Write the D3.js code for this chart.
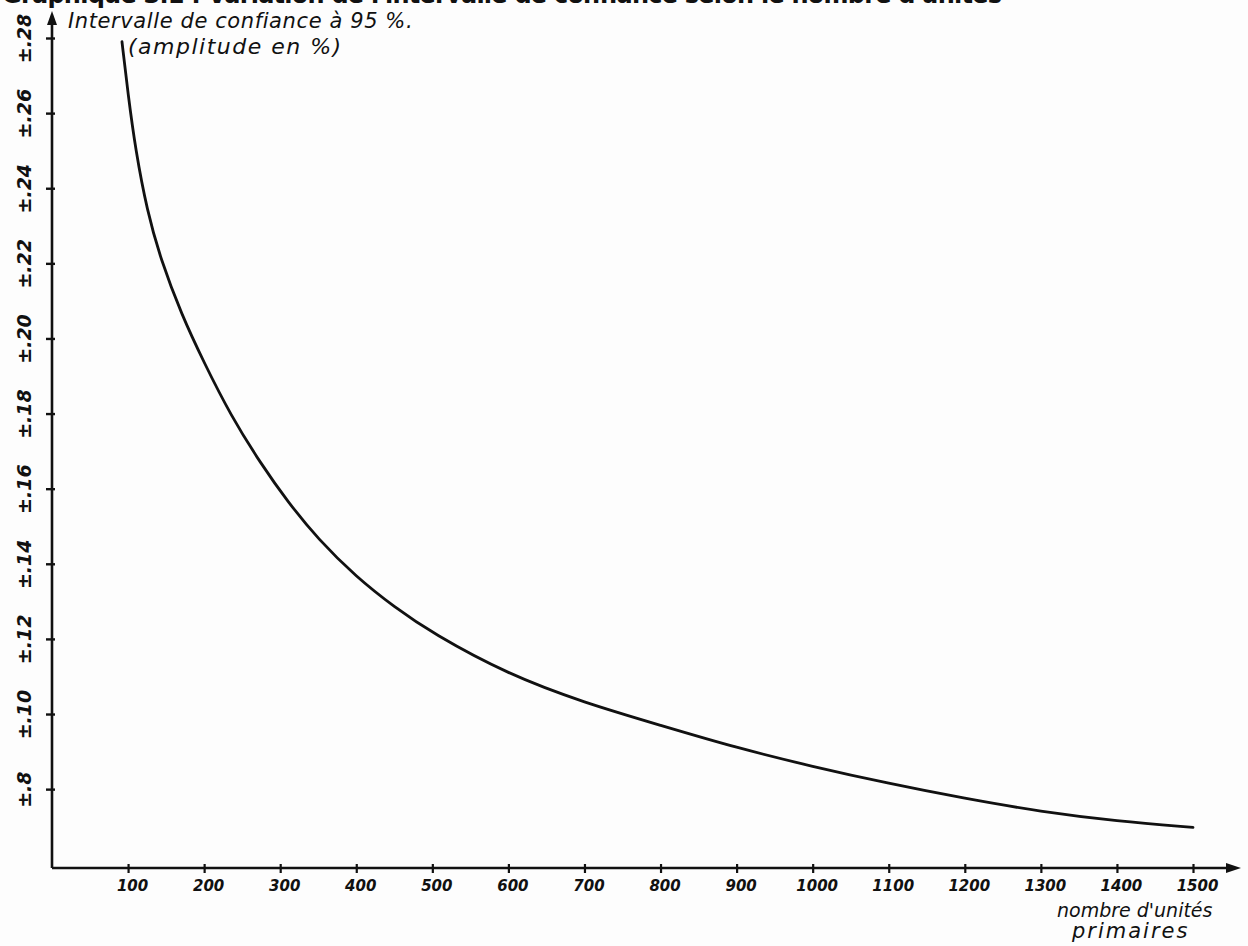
<!DOCTYPE html>
<html>
<head>
<meta charset="utf-8">
<script src="https://cdn.jsdelivr.net/npm/d3@7"></script>
<style>
  body { margin: 0; background: #fdfdfd; }
  svg { display: block; }
  .hand { font-family: "DejaVu Sans", sans-serif; font-style: italic; fill: #111; }
</style>
</head>
<body>
<div id="chart"></div>
<script>
(function(){
    // 1. Size of the drawing
    const width = 1248;
    const height = 946;

    // 2. Data
    const nUnits = [92, 100, 110, 125, 143, 170, 200, 235, 275, 310, 350, 400, 450, 500,
                    600, 700, 800, 900, 1000, 1100, 1200, 1300, 1400, 1500];
    const amplitude = [27.9, 26.5, 25.0, 23.4, 22.1, 20.65, 19.35, 17.95, 16.65, 15.65, 14.65, 13.65, 12.85, 12.15,
                       11.05, 10.3, 9.7, 9.1, 8.6, 8.15, 7.75, 7.4, 7.15, 6.98];

    // tick values and their hand-written labels
    const xTicks = [100, 200, 300, 400, 500, 600, 700, 800, 900, 1000, 1100, 1200, 1300, 1400, 1500];
    const yTicks = [28, 26, 24, 22, 20, 18, 16, 14, 12, 10, 8];
    const yTickLabels = ["±.28", "±.26", "±.24", "±.22", "±.20", "±.18", "±.16", "±.14", "±.12", "±.10", "±.8"];

    const data = nUnits.map((n, i) => ({ n: n, v: amplitude[i] }));

    // 3. SVG container
    const svg = d3.select("#chart")
        .append("svg")
        .attr("width", width)
        .attr("height", height);

    // 4. Scales (the origin sits where the two axes meet)
    const x = d3.scaleLinear().domain([0, 1500]).range([52, 1193]);
    const y = d3.scaleLinear().domain([5.9, 28]).range([868, 38]);

    // cut-off heading at the very top of the scan
    svg.append("text")
        .attr("x", 2)
        .attr("y", 3)
        .attr("font-family", "DejaVu Sans, sans-serif")
        .attr("font-weight", "bold")
        .attr("font-size", 24)
        .attr("fill", "#111")
        .attr("textLength", 1000)
        .text("Graphique 3.1 : Variation de l'intervalle de confiance selon le nombre d'unités");

    // 5. Axes lines with arrow heads
    const axisG = svg.append("g").attr("stroke", "#111").attr("stroke-width", 2.6).attr("fill", "none");
    axisG.append("line").attr("x1", x(0)).attr("y1", 20).attr("x2", x(0)).attr("y2", y(5.9));
    axisG.append("line").attr("x1", x(0)).attr("y1", y(5.9)).attr("x2", 1230).attr("y2", y(5.9));
    svg.append("path")
        .attr("d", `M${x(0)},11 L${x(0) - 5},25 L${x(0) + 5},25 Z`)
        .attr("fill", "#111");
    svg.append("path")
        .attr("d", `M1241,${y(5.9)} L1226,${y(5.9) - 5} L1226,${y(5.9) + 5} Z`)
        .attr("fill", "#111");

    // 6. Y axis ticks, labels written sideways
    const yAxis = svg.append("g")
        .attr("transform", `translate(${x(0)},0)`)
        .call(d3.axisLeft(y)
            .tickValues(yTicks)
            .tickSize(6)
            .tickFormat((d, i) => yTickLabels[i]));
    yAxis.select(".domain").remove();
    yAxis.selectAll(".tick line").attr("stroke", "#111").attr("stroke-width", 2.4).attr("x2", 3).attr("x1", -6);
    yAxis.selectAll(".tick text")
        .attr("class", "hand")
        .attr("transform", "rotate(-90)")
        .attr("x", 0)
        .attr("y", -28)
        .attr("dy", "0.35em")
        .attr("text-anchor", "middle")
        .attr("font-size", 19)
        .attr("font-weight", "bold");

    // 7. X axis ticks
    const xAxis = svg.append("g")
        .attr("transform", `translate(0,${y(5.9)})`)
        .call(d3.axisBottom(x)
            .tickValues(xTicks)
            .tickSize(5)
            .tickFormat(d3.format("d")));
    xAxis.select(".domain").remove();
    xAxis.selectAll(".tick line").attr("stroke", "#111").attr("stroke-width", 2.2).attr("y1", -4);
    xAxis.selectAll(".tick text")
        .attr("class", "hand")
        .attr("y", 12)
        .attr("dy", "0.71em")
        .attr("dx", 4)
        .attr("font-size", 15)
        .attr("font-weight", "bold");

    // 8. Axis titles
    svg.append("text").attr("class", "hand").attr("x", 68).attr("y", 28)
        .attr("font-size", 21).attr("letter-spacing", 0.6).text("Intervalle de confiance à 95 %.");
    svg.append("text").attr("class", "hand").attr("x", 128).attr("y", 54)
        .attr("font-size", 22).attr("letter-spacing", 1.5).text("(amplitude en %)");
    svg.append("text").attr("class", "hand").attr("x", 1057).attr("y", 917)
        .attr("font-size", 19).text("nombre d'unités");
    svg.append("text").attr("class", "hand").attr("x", 1072).attr("y", 938)
        .attr("font-size", 21).attr("letter-spacing", 2).text("primaires");

    // 9. The curve
    const line = d3.line()
        .x(d => x(d.n))
        .y(d => y(d.v))
        .curve(d3.curveBasis);

    svg.append("path")
        .datum(data)
        .attr("d", line)
        .attr("fill", "none")
        .attr("stroke", "#111")
        .attr("stroke-width", 2.8)
        .attr("stroke-linecap", "round");
})();
</script>
</body>
</html>
